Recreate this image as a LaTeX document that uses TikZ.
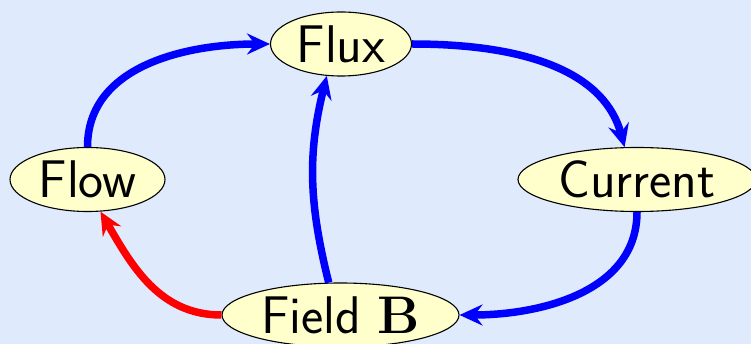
\documentclass[tikz,border=0pt]{standalone}
\usetikzlibrary{shapes.geometric,arrows.meta}
\definecolor{paper}{RGB}{224,234,253}
\definecolor{bubblefill}{RGB}{255,255,204}
\begin{document}
\begin{tikzpicture}[x=1pt,y=-1pt,
  bubble/.style={ellipse,draw=black,line width=1.1pt,fill=bubblefill,
    inner sep=0pt,minimum height=64pt,
    font=\fontsize{53}{60}\selectfont\sffamily},
  link/.style={line width=7.5pt,
    -{Stealth[length=23pt,width=21pt,inset=8pt]}},
  bluelink/.style={link,draw=blue},
  redlink/.style={link,draw=red}]
  % page and background (y grows downwards)
  \useasboundingbox (0,0) rectangle (751,344);
  \fill[paper] (0,0) rectangle (751,344);

  % the four quantities
  \node[bubble,minimum width=141pt] (flux)    at (341,44)    {Flux};
  \node[bubble,minimum width=155pt] (flow)    at (87.5,179.5) {Flow};
  \node[bubble,minimum width=238pt] (current) at (637,179.5) {Current};
  \node[bubble,minimum width=237pt] (field)   at (340.5,315) {Field {\rmfamily\bfseries B}};

  % the loop of influences
  \draw[bluelink] (flow.north) to[out=90,in=180] (flux.west);
  \draw[bluelink] (flux.east) .. controls +(0:120) and +(-105:75) .. (current.111);
  \draw[bluelink] (current.south) to[out=-90,in=0] (field.east);
  \draw[redlink]  (field.west) to[out=180,in=-60] (flow.-68);
  \draw[bluelink] (field.110) to[out=104,in=-104] (flux.-114);
\end{tikzpicture}
\end{document}
